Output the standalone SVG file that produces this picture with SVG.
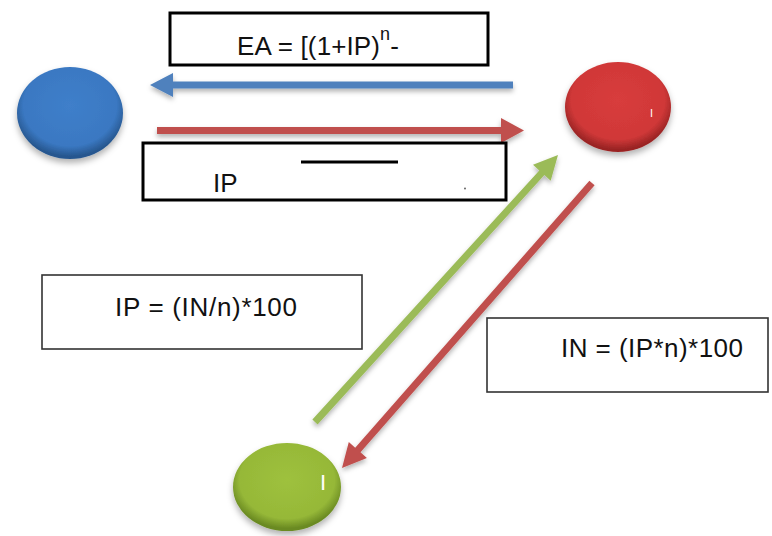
<svg xmlns="http://www.w3.org/2000/svg" width="772" height="536" viewBox="0 0 772 536">
  <style>
    .txt { font-family: "Liberation Sans", Arial, sans-serif; font-size: 26px; fill: #111; }
    .box { fill: #fff; stroke: #000; stroke-width: 3; }
    .box2 { fill: #fff; stroke: #333; stroke-width: 1.6; }
    .mark { font-family: "Liberation Sans", Arial, sans-serif; fill: #fff; }
  </style>
  <defs>
    <filter id="sh" x="-20%" y="-20%" width="140%" height="160%">
      <feDropShadow dx="0" dy="3" stdDeviation="2.5" flood-color="#000" flood-opacity="0.3"/>
    </filter>
    <filter id="csh" x="-20%" y="-20%" width="140%" height="150%">
      <feDropShadow dx="0" dy="4" stdDeviation="3" flood-color="#000" flood-opacity="0.3"/>
    </filter>
    <radialGradient id="gBlue" cx="50%" cy="42%" r="55%">
      <stop offset="0" stop-color="#3f7fca"/>
      <stop offset="0.8" stop-color="#3a78c2"/>
      <stop offset="1" stop-color="#27578f"/>
    </radialGradient>
    <radialGradient id="gRed" cx="50%" cy="42%" r="55%">
      <stop offset="0" stop-color="#d83c3c"/>
      <stop offset="0.8" stop-color="#d03838"/>
      <stop offset="1" stop-color="#9a2424"/>
    </radialGradient>
    <radialGradient id="gGreen" cx="50%" cy="42%" r="55%">
      <stop offset="0" stop-color="#9ec13d"/>
      <stop offset="0.8" stop-color="#96b838"/>
      <stop offset="1" stop-color="#6a8a22"/>
    </radialGradient>
  </defs>

  <g id="connectors">
    <polygon filter="url(#sh)" fill="#4f81bd" points="513,81.5 173,81.5 173,73 150,85 173,97 173,88.5 513,88.5"/>
    <polygon filter="url(#sh)" fill="#c0504d" points="157,127 501,127 501,118 524,130.5 501,143 501,134 157,134"/>
    <polygon filter="url(#sh)" fill="#9bbb59" points="317.6,424.4 544.4,175.1 550.7,180.8 558,155 533.0,164.7 539.3,170.4 312.4,419.6"/>
    <polygon filter="url(#sh)" fill="#c0504d" points="589.4,180.7 355.2,447.7 348.8,442.0 342,468 366.9,457.9 360.5,452.3 594.6,185.3"/>
  </g>

  <g id="node-blue">
    <ellipse cx="70" cy="113" rx="53" ry="46" fill="url(#gBlue)" filter="url(#csh)"/>
  </g>
  <g id="node-red">
    <ellipse cx="618" cy="107" rx="53" ry="45" fill="url(#gRed)" filter="url(#csh)"/>
    <text class="mark" x="650" y="117" font-size="11">I</text>
  </g>
  <g id="node-green">
    <ellipse cx="287" cy="487" rx="54" ry="44" fill="url(#gGreen)" filter="url(#csh)"/>
    <text class="mark" x="320" y="490" font-size="22">I</text>
  </g>

  <g id="box-ea">
    <rect class="box" x="170" y="13" width="318" height="52"/>
    <text class="txt" x="237" y="55"><tspan textLength="143" lengthAdjust="spacing">EA = [(1+IP)</tspan><tspan font-size="18" dy="-15">n</tspan><tspan dy="15">-</tspan></text>
  </g>
  <g id="box-ip">
    <rect class="box" x="143" y="143" width="363" height="57"/>
    <line x1="301" y1="162" x2="398" y2="162" stroke="#000" stroke-width="3"/>
    <text class="txt" x="213" y="192">IP</text>
    <circle cx="465" cy="188.5" r="0.9" fill="#555"/>
  </g>
  <g id="box-ipformula">
    <rect class="box2" x="42" y="275" width="320" height="74"/>
    <text class="txt" x="115" y="316" textLength="182" lengthAdjust="spacing">IP = (IN/n)*100</text>
  </g>
  <g id="box-informula">
    <rect class="box2" x="487" y="318" width="281" height="74"/>
    <text class="txt" x="561" y="357" textLength="182" lengthAdjust="spacing">IN = (IP*n)*100</text>
  </g>
</svg>
